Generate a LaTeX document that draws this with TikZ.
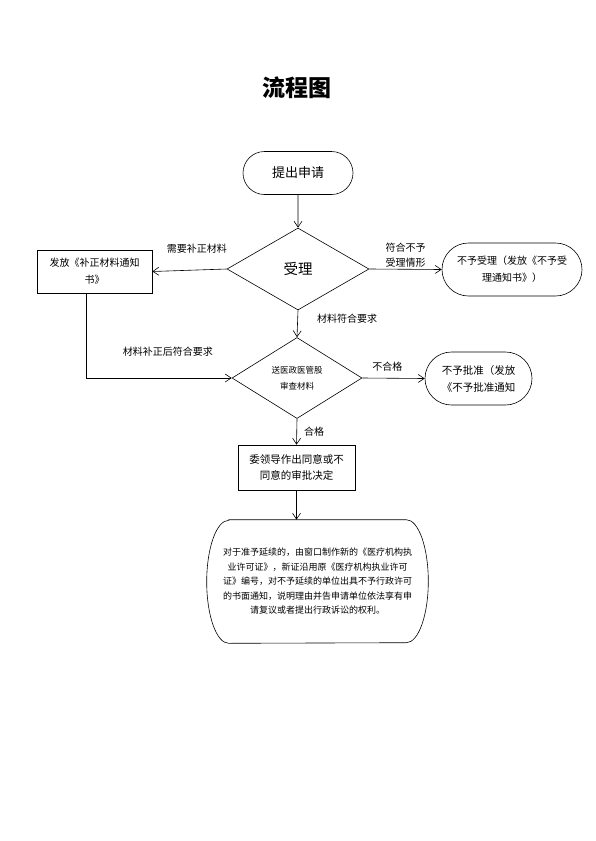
\documentclass[tikz,border=0pt]{standalone}
\usepackage{fontspec}
\setmainfont{Noto Sans CJK SC}
\usetikzlibrary{shapes.geometric,shapes.misc,arrows.meta,positioning}

\tikzstyle{stadium} = [draw, rounded rectangle, align=center, inner sep=1pt]
\tikzstyle{box} = [draw, rectangle, align=center, inner sep=1pt]
\tikzstyle{check} = [draw, diamond, align=center, inner sep=0pt]
\tikzstyle{note} = [align=center, inner sep=1pt, font=\fontsize{10}{15}\selectfont]

\begin{document}
\begin{tikzpicture}[x=1pt, y=-1pt, >={Straight Barb[length=6pt,width=8pt]}, line width=0.6pt]
\useasboundingbox (0,0) rectangle (595,841);
%titel
\node[font=\fontsize{23}{26}\selectfont\bfseries] (title) at (297,88) {流程图};
%begin nodes
\node[stadium, minimum width=112pt, minimum height=43pt, font=\fontsize{13}{16}\selectfont] (start) at (298,173) {提出申请};
\node[check, minimum width=142pt, minimum height=82pt, font=\fontsize{14.5}{17}\selectfont] (accept) at (298,269) {受理};
\node[box, minimum width=115pt, minimum height=43pt, font=\fontsize{10}{17}\selectfont] (supplement) at (94.5,271.5) {发放《补正材料通知\\书》};
\node[stadium, minimum width=142pt, minimum height=53pt, font=\fontsize{10}{17}\selectfont] (reject) at (512,269.5) {不予受理（发放《不予受\\理通知书》）};
\node[check, minimum width=130pt, minimum height=81pt, font=\fontsize{8.5}{16}\selectfont] (review) at (297,378) {送医政医管股\\审查材料};
\node[stadium, minimum width=109pt, minimum height=53pt, font=\fontsize{10.5}{17}\selectfont] (refuse) at (478.5,378.5) {不予批准（发放\\《不予批准通知};
\node[box, minimum width=117pt, minimum height=45pt, font=\fontsize{10.5}{16}\selectfont] (decide) at (296.5,467.5) {委领导作出同意或不\\同意的审批决定};
\node[rectangle, align=center, minimum width=221pt, minimum height=123pt, font=\fontsize{9}{14.5}\selectfont] (result) at (317.5,581.5) {对于准予延续的，由窗口制作新的《医疗机构执\\业许可证》，新证沿用原《医疗机构执业许可\\证》编号，对不予延续的单位出具不予行政许可\\的书面通知，说明理由并告申请单位依法享有申\\请复议或者提出行政诉讼的权利。};
%rand van result
\draw ([xshift=22pt]result.north west) -- ([xshift=-22pt]result.north east)
  arc[start angle=90, end angle=-90, x radius=22pt, y radius=61.5pt]
  -- ([xshift=22pt]result.south west)
  arc[start angle=270, end angle=90, x radius=22pt, y radius=61.5pt] -- cycle;
%end nodes
%begin edges
\draw[->] (start) -- (accept);
\draw[->] (accept.west) -- node[note, above=15pt, pos=0.4] {需要补正材料} (supplement.east);
\draw[->] (accept.east) -- node[note, above=1pt] {符合不予\\受理情形} (reject.west);
\draw[->] (accept.south) -- node[note, right=18pt, pos=0.3] {材料符合要求} (review.north);
\draw[->] ([xshift=-8pt]supplement.south) |- node[note, above=20pt, pos=0.78] {材料补正后符合要求} (review.west);
\draw[->] (review.east) -- node[note, above=6pt, pos=0.4] {不合格} (refuse.west);
\draw[->] (review.south) -- node[note, right=6pt] {合格} (decide.north);
\draw[->] (decide.south) -- (decide.south |- result.north);
%end edges
\end{tikzpicture}
\end{document}
